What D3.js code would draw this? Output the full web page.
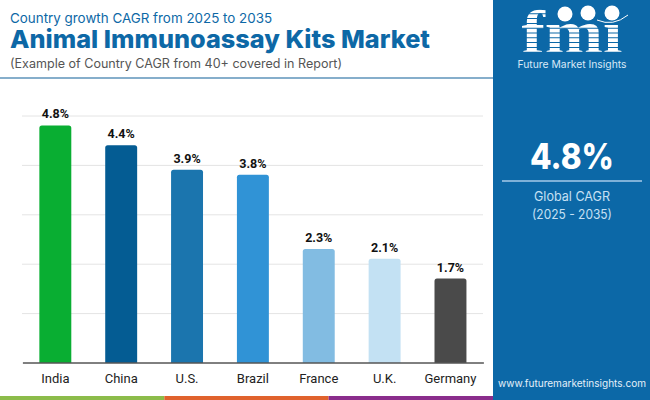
<!DOCTYPE html>
<html><head><meta charset="utf-8">
<script src="https://cdn.jsdelivr.net/npm/d3@7"></script>
<style>html,body{margin:0;padding:0;background:#fff}svg{display:block}</style>
</head><body><div id="c"></div>
<script>
const categories=["India","China","U.S.","Brazil","France","U.K.","Germany"];
const values=[4.8,4.4,3.9,3.8,2.3,2.1,1.7];
const barColors=["#09ae32","#045c93","#1b75ae","#3093d6","#82bce2","#c3e1f3","#4a4a4a"];
const yTicks=[0,1,2,3,4,5];
const stripColors=["#8cbc4a","#e0622d","#8a2d8c"];
const titleFont="Inter, 'Open Sans', sans-serif";
const W=650,H=400;
const svg=d3.select("#c").append("svg").attr("width",W).attr("height",H);
svg.append("rect").attr("width",W).attr("height",H).attr("fill","#fff");

// plot
const x=d3.scaleBand().domain(categories).range([22.4,483.4]).paddingInner(0.515).paddingOuter(0.2575);
const y=d3.scaleLinear().domain([0,5]).range([362.5,115.5]);
const grid=svg.append("g").call(d3.axisLeft(y).tickValues(yTicks.slice(1)).tickSize(-461).tickFormat("")).attr("transform","translate(22,0)");
grid.select(".domain").remove();
grid.selectAll("line").attr("stroke","#e4e4e4");
const r=2.5;
svg.selectAll("path.bar").data(values).join("path").attr("class","bar")
 .attr("d",(d,i)=>{const a=x(categories[i]),w=x.bandwidth(),t=y(d),b=y(0);
   return `M${a},${b}V${t+r}Q${a},${t} ${a+r},${t}H${a+w-r}Q${a+w},${t} ${a+w},${t+r}V${b}Z`;})
 .attr("fill",(d,i)=>barColors[i]);
svg.selectAll("text.val").data(values).join("text").attr("class","val")
 .attr("x",(d,i)=>x(categories[i])+x.bandwidth()/2).attr("y",d=>y(d)-7)
 .attr("text-anchor","middle").attr("font-family","Roboto").attr("font-weight",700).attr("font-size",12.5).attr("fill","#111")
 .text(d=>d.toFixed(1)+"%");
const xa=svg.append("g").attr("transform","translate(0,362.5)").call(d3.axisBottom(x).tickSize(0).tickPadding(11));
xa.select(".domain").attr("stroke","#000").attr("stroke-width",1);
xa.selectAll("text").attr("font-family","Roboto").attr("font-size",13).attr("fill","#222");

// header
svg.append("text").attr("x",10).attr("y",23).attr("font-family",titleFont).attr("font-size",13.4).attr("fill","#0d68a6").text("Country growth CAGR from 2025 to 2035");
svg.append("text").attr("x",10).attr("y",47.5).attr("font-family",titleFont).attr("font-weight",800).attr("font-size",24.5).attr("fill","#0d68a6").attr("textLength",420).attr("lengthAdjust","spacingAndGlyphs").text("Animal Immunoassay Kits Market");
svg.append("text").attr("x",10).attr("y",68).attr("font-family",titleFont).attr("font-size",12.6).attr("fill","#555").attr("textLength",332).attr("lengthAdjust","spacingAndGlyphs").text("(Example of Country CAGR from 40+ covered in Report)");
svg.append("rect").attr("x",0).attr("y",77).attr("width",493).attr("height",2).attr("fill","#86aecb");

// bottom strip
const strip=d3.scaleBand().domain(stripColors).range([0,493]);
svg.selectAll("rect.s").data(stripColors).join("rect").attr("class","s").attr("x",d=>strip(d)).attr("y",396).attr("width",strip.bandwidth()).attr("height",4).attr("fill",d=>d);

// sidebar
svg.append("rect").attr("x",493).attr("y",0).attr("width",157).attr("height",400).attr("fill","#0c68a7");
const cx=572;
const t=(s,yy,fs,w,fill,len)=>{const e=svg.append("text").attr("x",cx).attr("y",yy).attr("text-anchor","middle").attr("font-family",titleFont).attr("font-size",fs).attr("font-weight",w).attr("fill",fill).text(s);if(len)e.attr("textLength",len).attr("lengthAdjust","spacingAndGlyphs");return e;};
t("4.8%",169,35,800,"#fff",84);
svg.append("rect").attr("x",502).attr("y",180).attr("width",140).attr("height",2).attr("fill","#7fb1d8");
t("Global CAGR",201,13,400,"#c6e0f4",76);
t("(2025 - 2035)",219,13,400,"#c6e0f4",80);
t("www.futuremarketinsights.com",387,10.2,400,"#e4f0fa",148);

// logo
const cp=svg.append("defs").append("clipPath").attr("id","stripes");
d3.range(9).forEach(i=>cp.append("rect").attr("x",510).attr("y",9.5+i*4.8).attr("width",130).attr("height",3.8));
svg.append("text").attr("x",572).attr("y",53).attr("text-anchor","middle").attr("font-family","'Liberation Serif', serif").attr("font-weight",700).attr("font-size",62).attr("fill","#fff").attr("clip-path","url(#stripes)").attr("textLength",101).attr("lengthAdjust","spacingAndGlyphs").text("fm\u0131");
[[565,14],[588,13],[612,13]].forEach(p=>svg.append("circle").attr("cx",p[0]).attr("cy",p[1]).attr("r",7.5).attr("fill","#fff"));
svg.append("path").attr("d","M597 20 Q613 27 628 15").attr("fill","none").attr("stroke","#fff").attr("stroke-width",1);
t("Future Market Insights",68,10.6,400,"#d8e9f7",109);
</script></body></html>
